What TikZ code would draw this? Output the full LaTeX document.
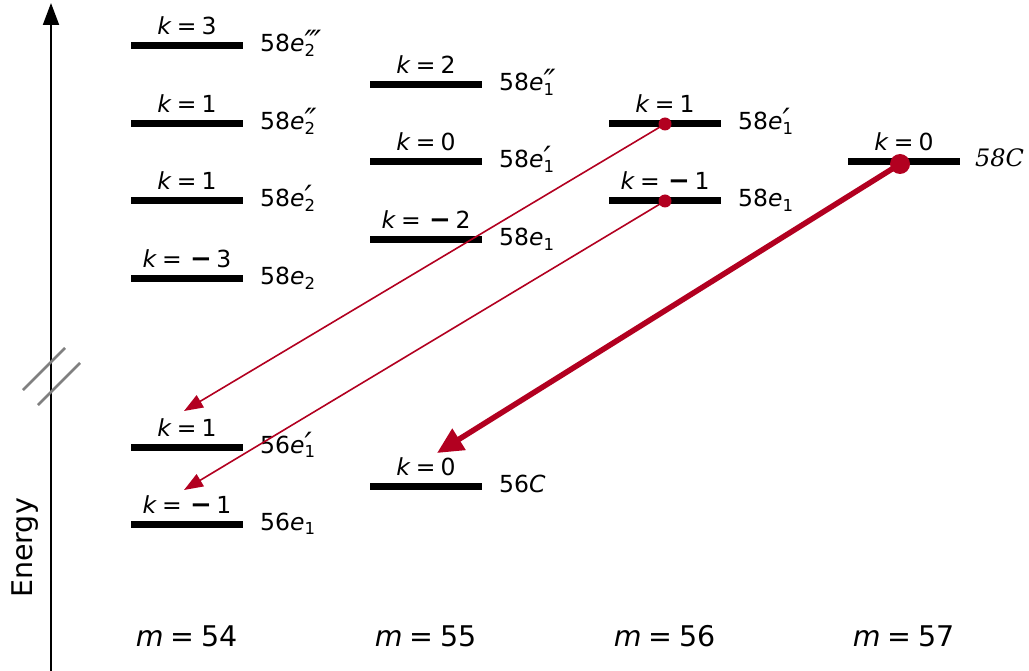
\documentclass[tikz,border=0pt]{standalone}
\usepackage{fontspec}
\setmainfont{DejaVu Sans}
\newfontfamily\serifit{DejaVu Serif}
\usetikzlibrary{arrows.meta}
\definecolor{arrred}{RGB}{178,0,32}
\definecolor{breakgray}{RGB}{128,128,128}
\newcommand{\kk}[1]{\textit{k}\hspace{0.22em}=\hspace{0.22em}#1}
\newcommand{\km}[1]{\textit{k}\hspace{0.22em}=\hspace{0.35em}{\fontsize{26}{28}\selectfont\bfseries −}\hspace{0.2em}#1}
\newcommand{\lvl}[3]{#1\textit{e}\rlap{\raisebox{-4.5pt}{\fontsize{16.5}{16}\selectfont #2}}\raisebox{-2pt}{\fontsize{32}{32}\selectfont\itshape #3}}
\begin{document}
\begin{tikzpicture}[x=1pt,y=-1pt,
  bar/.style={rectangle,fill=black,draw=none,minimum width=112pt,minimum height=7pt,inner sep=0pt},
  klab/.style={anchor=base,inner sep=0pt,font=\fontsize{23.5}{28}\selectfont},
  nlab/.style={anchor=base west,inner sep=0pt,font=\fontsize{23.5}{28}\selectfont},
  mlab/.style={anchor=base,inner sep=0pt,font=\fontsize{28.5}{34}\selectfont},
  thin arrow/.style={arrred,line width=1.6pt,-{Triangle[length=19pt,width=14pt]}},
  thick arrow/.style={arrred,line width=5.5pt,-{Triangle[length=26pt,width=24pt]}},
  dot/.style={circle,fill=arrred,inner sep=0pt}
]
\useasboundingbox (0,0) rectangle (1029,671);
% axis
\coordinate (axb) at (51,671);
\coordinate (axt) at (51,3);
\draw[line width=2pt,-{Triangle[length=22pt,width=16pt]}] (axb) -- (axt);
\coordinate (b1s) at (23,390); \coordinate (b1e) at (65,348);
\coordinate (b2s) at (38,405); \coordinate (b2e) at (80,363);
\draw[breakgray,line width=2.5pt] (b1s) -- (b1e);
\draw[breakgray,line width=2.5pt] (b2s) -- (b2e);
\node[rotate=90,font=\fontsize{28.5}{32}\selectfont,inner sep=0pt] (energy) at (25,548) {Energy};

% m = 54
\node[bar] (a1) at (187,46) {};
\node[bar] (a2) at (187,124) {};
\node[bar] (a3) at (187,201) {};
\node[bar] (a4) at (187,279) {};
\node[bar] (a5) at (187,447) {};
\node[bar] (a6) at (187,524) {};
\node[klab] (ka1) at (187,35) {\kk{3}};
\node[klab] (ka2) at (187,113) {\kk{1}};
\node[klab] (ka3) at (187,190) {\kk{1}};
\node[klab] (ka4) at (187,268) {\km{3}};
\node[klab] (ka5) at (187,436) {\kk{1}};
\node[klab] (ka6) at (187,513) {\km{1}};
\node[nlab] (na1) at (260,52) {\lvl{58}{2}{‴}};
\node[nlab] (na2) at (260,130) {\lvl{58}{2}{″}};
\node[nlab] (na3) at (260,207) {\lvl{58}{2}{′}};
\node[nlab] (na4) at (260,285) {\lvl{58}{2}{}};
\node[nlab] (na5) at (260,453) {\lvl{56}{1}{′}};
\node[nlab] (na6) at (260,530) {\lvl{56}{1}{}};

% m = 55
\node[bar] (b1) at (426,85) {};
\node[bar] (b2) at (426,162) {};
\node[bar] (b3) at (426,240) {};
\node[bar] (b4) at (426,486) {};
\node[klab] (kb1) at (426,74) {\kk{2}};
\node[klab] (kb2) at (426,151) {\kk{0}};
\node[klab] (kb3) at (426,229) {\km{2}};
\node[klab] (kb4) at (426,475) {\kk{0}};
\node[nlab] (nb1) at (499,91) {\lvl{58}{1}{″}};
\node[nlab] (nb2) at (499,168) {\lvl{58}{1}{′}};
\node[nlab] (nb3) at (499,246) {\lvl{58}{1}{}};
\node[nlab] (nb4) at (499,492) {56\textit{C}};

% m = 56
\node[bar] (c1) at (665,124) {};
\node[bar] (c2) at (665,201) {};
\node[klab] (kc1) at (665,113) {\kk{1}};
\node[klab] (kc2) at (665,190) {\km{1}};
\node[nlab] (nc1) at (738,130) {\lvl{58}{1}{′}};
\node[nlab] (nc2) at (738,207) {\lvl{58}{1}{}};

% m = 57
\node[bar] (d1) at (904,162) {};
\node[klab] (kd1) at (904,151) {\kk{0}};
\node[nlab,font=\fontsize{24}{28}\selectfont\serifit\itshape] (nd1) at (975,167) {58C};

% m labels
\node[mlab] (m1) at (187,646) {\textit{m}\hspace{0.25em}=\hspace{0.25em}54};
\node[mlab] (m2) at (426,646) {\textit{m}\hspace{0.25em}=\hspace{0.25em}55};
\node[mlab] (m3) at (665,646) {\textit{m}\hspace{0.25em}=\hspace{0.25em}56};
\node[mlab] (m4) at (904,646) {\textit{m}\hspace{0.25em}=\hspace{0.25em}57};

% transitions
\coordinate (s1) at (665,124);
\coordinate (s2) at (665,201);
\coordinate (s3) at (900,164);
\coordinate (t1) at (184,411);
\coordinate (t2) at (184,490);
\coordinate (t3) at (437,453);
\draw[thin arrow] (s1) -- (t1);
\draw[thin arrow] (s2) -- (t2);
\draw[thick arrow] (s3) -- (t3);
\node[dot,minimum size=13pt] (ds1) at (s1) {};
\node[dot,minimum size=13pt] (ds2) at (s2) {};
\node[dot,minimum size=20pt] (ds3) at (s3) {};
\end{tikzpicture}
\end{document}
